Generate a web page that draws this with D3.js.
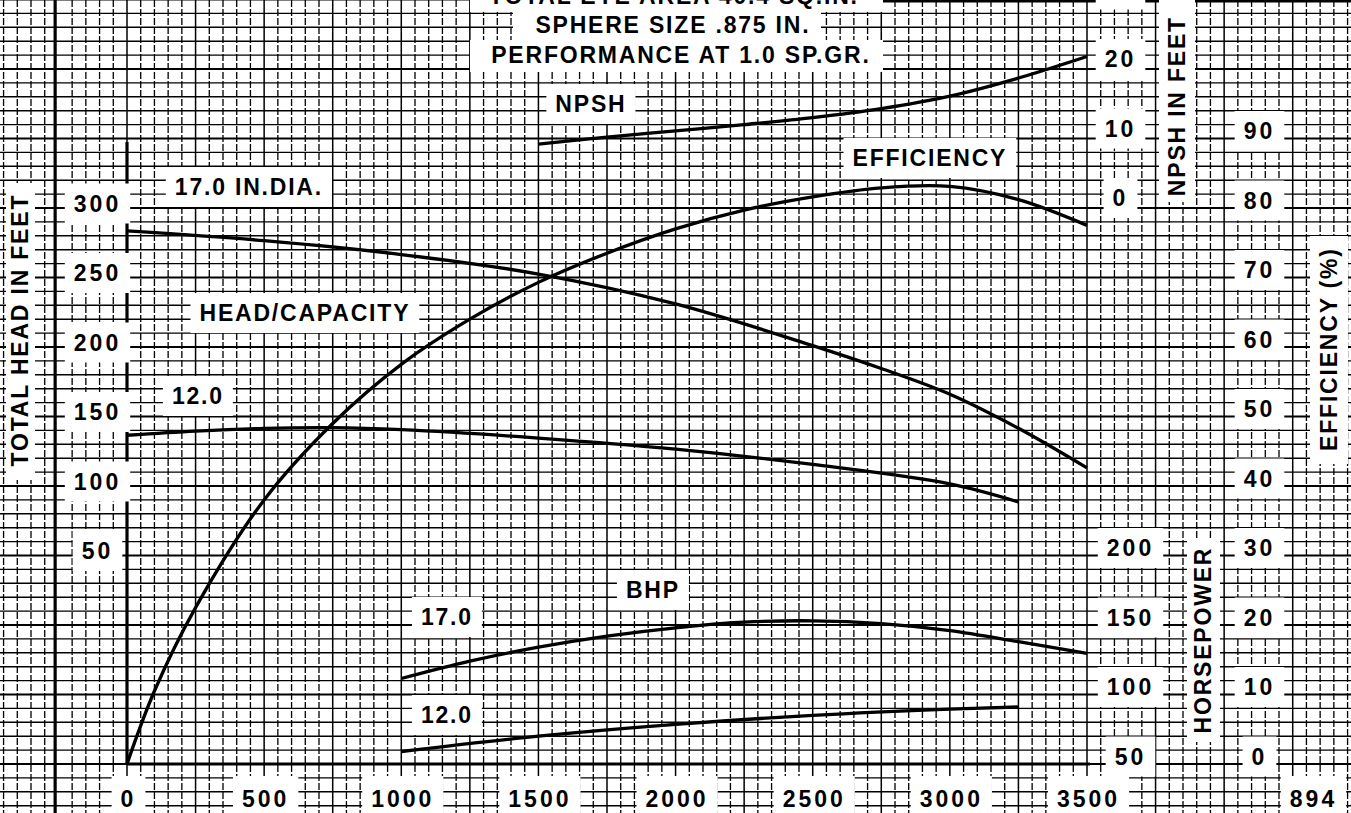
<!DOCTYPE html>
<html><head><meta charset="utf-8">
<script src="https://cdn.jsdelivr.net/npm/d3@7"></script>
<style>
html,body{margin:0;padding:0;background:#fff;overflow:hidden}
svg{display:block}
text{font-family:"Liberation Sans",Arial,Helvetica,sans-serif;font-weight:bold;fill:#000}
</style></head><body>
<svg id="c" width="1351" height="813"></svg>
<script>
// ---------- DATA ----------
const flowTicks = [0, 500, 1000, 1500, 2000, 2500, 3000, 3500];
const headTicks = [50, 100, 150, 200, 250, 300];
const npshTicks = [0, 10, 20, 30];
const hpTicks = [50, 100, 150, 200];
const effTicks = [0, 10, 20, 30, 40, 50, 60, 70, 80, 90];

const qHead17 = [0, 500, 1000, 1500, 2000, 2500, 2750, 3000, 3250, 3500];
const head17  = [283.5, 276.5, 266.5, 252.5, 231, 201, 184.5, 166, 141.5, 113];

const qHead12 = [0, 250, 500, 750, 1000, 1500, 2000, 2500, 3000, 3250];
const head12  = [136.5, 139.5, 141.5, 142, 140.5, 134.5, 126.5, 115.5, 101.5, 88.5];

const qEff = [0, 100, 250, 500, 750, 1000, 1250, 1500, 1750, 2000, 2250, 2500, 2750, 3000, 3250, 3500];
const eff  = [0, 10.5, 22.5, 38, 49, 57.5, 64, 69.3, 73.5, 77, 79.7, 81.6, 82.9, 83.1, 81.2, 77.5];

const qNpsh = [1500, 1750, 2000, 2250, 2500, 2750, 3000, 3250, 3500];
const npsh  = [9.2, 10.2, 11.1, 12.0, 13.0, 14.3, 16.1, 18.7, 21.8];

const qBhp17 = [1000, 1250, 1500, 1750, 2000, 2250, 2500, 2750, 3000, 3250, 3500];
const bhp17  = [111.5, 124, 134, 142, 148, 152, 153, 151, 146, 138, 129.5];

const qBhp12 = [1000, 1500, 2000, 2500, 3000, 3250];
const bhp12  = [59, 70, 78.5, 85, 89.5, 91];

// ---------- SETUP ----------
const W = 1351, H = 813;
const svg = d3.select("#c");
const x = d3.scaleLinear().domain([0, 3500]).range([127, 1087]);
const yEff = d3.scaleLinear().domain([0, 90]).range([764, 138.5]);
const yHead = d3.scaleLinear().domain([0, 300]).range([625, 208]);
const yNpsh = d3.scaleLinear().domain([0, 30]).range([208, -0.5]);
const yHp = d3.scaleLinear().domain([50, 200]).range([764, 555.5]);

svg.append("rect").attr("width", W).attr("height", H).attr("fill", "#fff");

// ---------- GRID ----------
const grid = svg.append("g");
const gxVals = d3.range(-450, 4551, 50).filter(q => q !== -250 && x(q) >= -1 && x(q) <= W + 1);
const gyVals = d3.range(-6, 112, 2).filter(v => yEff(v) >= -1 && yEff(v) <= H + 1);
grid.selectAll("line.gy").data(gyVals).join("line")
  .attr("x1", 0).attr("x2", W)
  .attr("y1", d => yEff(d)).attr("y2", d => yEff(d))
  .attr("stroke", "#000")
  .attr("stroke-width", d => d % 10 === 0 ? 2.2 : 1.4);
grid.selectAll("line.gx").data(gxVals).join("line")
  .attr("y1", 0).attr("y2", H)
  .attr("x1", d => x(d)).attr("x2", d => x(d))
  .attr("stroke", "#000")
  .attr("stroke-width", d => d % 250 === 0 ? 1.5 : 1.3)
  .attr("stroke-dasharray", d => d % 250 === 0 ? null : "7,2");

// heavy frame lines
const heavy = svg.append("g").attr("stroke", "#000").attr("stroke-width", 3.2);
heavy.append("line").attr("x1", x(-262)).attr("x2", x(-262)).attr("y1", 0).attr("y2", H);
heavy.append("line").attr("x1", x(0)).attr("x2", x(0)).attr("y1", 142).attr("y2", yEff(0));
heavy.append("line").attr("x1", x(0)).attr("x2", x(3500) + 3).attr("y1", yEff(0)).attr("y2", yEff(0));
heavy.append("line").attr("x1", 883).attr("x2", W).attr("y1", 1).attr("y2", 1);

// ---------- LABEL HELPERS ----------
const boxLayer = svg.append("g");
const textLayer = svg.append("g");
const FS = 23;

function label(txt, cx, cy, opt = {}) {
  const fs = opt.fs || FS, ls = opt.ls != null ? opt.ls : 1.8;
  const t = textLayer.append("text")
    .attr("x", cx + ls / 2).attr("y", cy)
    .attr("text-anchor", "middle").attr("dominant-baseline", "central")
    .style("font-size", fs + "px").style("letter-spacing", ls + "px")
    .text(txt);
  if (opt.box !== false) {
    let bx, by, bw, bh;
    if (opt.rect) { [bx, by, bw, bh] = opt.rect; }
    else {
      const bb = t.node().getBBox();
      const px = opt.px != null ? opt.px : 9, py = opt.py != null ? opt.py : 7;
      bx = bb.x - px; by = bb.y - py; bw = bb.width + 2 * px; bh = bb.height + 2 * py;
    }
    boxLayer.append("rect").attr("x", bx).attr("y", by).attr("width", bw).attr("height", bh).attr("fill", "#fff");
  }
  return t;
}
function vlabel(txt, cx, cy, rect, opt = {}) {
  const fs = opt.fs || FS, ls = opt.ls != null ? opt.ls : 1.8;
  textLayer.append("text")
    .attr("transform", `translate(${cx},${cy}) rotate(-90)`)
    .attr("x", ls / 2).attr("y", 0)
    .attr("text-anchor", "middle").attr("dominant-baseline", "central")
    .style("font-size", fs + "px").style("letter-spacing", ls + "px")
    .text(txt);
  boxLayer.append("rect").attr("x", rect[0]).attr("y", rect[1]).attr("width", rect[2]).attr("height", rect[3]).attr("fill", "#fff");
}

const numOpt = { ls: 3, px: 9, py: 7 };

// bottom flow labels
flowTicks.forEach(q => label(String(q), x(q), 799, Object.assign({}, numOpt, { py: 10 })));
label("894", 1312, 799, Object.assign({}, numOpt, { py: 10 }));

// head
headTicks.forEach(v => label(String(v), 96, yHead(v) - 4.5, numOpt));
// npsh
npshTicks.forEach(v => label(String(v), 1119, yNpsh(v) - 10, numOpt));
// hp
hpTicks.forEach(v => label(String(v), 1129, yHp(v) - 7.5, numOpt));
// efficiency
effTicks.forEach(v => label(String(v), 1258, yEff(v) - 7.5, numOpt));

// axis titles
vlabel("TOTAL HEAD IN FEET", 20, 331, [6, 183, 29, 297]);
vlabel("NPSH IN FEET", 1177, 107, [1159, 0, 36, 202]);
vlabel("EFFICIENCY (%)", 1329, 350, [1310, 236, 38, 228]);
vlabel("HORSEPOWER", 1203, 641, [1187, 538, 33, 204]);

// title block
label("TOTAL EYE AREA 40.4 SQ.IN.", 673, -4, { rect: [470, -20, 413, 32] });
label("SPHERE SIZE .875 IN.", 672, 25, { rect: [513, 10, 308, 32] });
label("PERFORMANCE AT 1.0 SP.GR.", 680, 55, { rect: [470, 40, 413, 32] });

// curve labels
label("17.0 IN.DIA.", 248, 187);
label("HEAD/CAPACITY", 304, 313);
label("12.0", 197, 396);
label("NPSH", 590, 104);
label("EFFICIENCY", 929, 158);
label("BHP", 652, 590);
label("17.0", 446, 617);
label("12.0", 446, 715);

// ---------- CURVES ----------
const curves = svg.append("g").attr("fill", "none").attr("stroke", "#000")
  .attr("stroke-width", 3.3).attr("stroke-linejoin", "round").attr("stroke-linecap", "butt");
function draw(qs, vs, ys) {
  const pts = qs.map((q, i) => [q, vs[i]]);
  curves.append("path").datum(pts)
    .attr("d", d3.line().x(d => x(d[0])).y(d => ys(d[1])).curve(d3.curveCatmullRom.alpha(0.5)));
}
draw(qHead17, head17, yHead);
draw(qHead12, head12, yHead);
draw(qEff, eff, yEff);
draw(qNpsh, npsh, yNpsh);
draw(qBhp17, bhp17, yHp);
draw(qBhp12, bhp12, yHp);
</script>
</body></html>
